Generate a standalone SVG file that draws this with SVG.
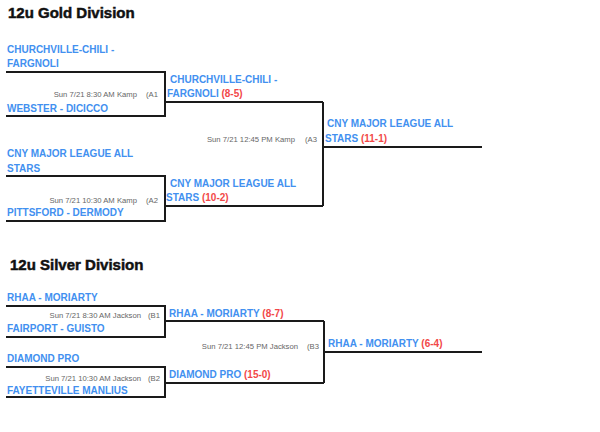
<svg xmlns="http://www.w3.org/2000/svg" width="600" height="432" viewBox="0 0 600 432">
<style>
.title{font-family:"Liberation Sans",Arial,sans-serif;font-weight:bold;font-size:15px;fill:#111;stroke:#111;stroke-width:0.5}
.team{font-family:"Liberation Sans",Arial,sans-serif;font-weight:bold;font-size:10px;fill:#4290f0}
.score{fill:#f24848}
.info{font-family:"Liberation Sans",Arial,sans-serif;font-size:7.7px;fill:#666}
.info-end{text-anchor:end}
.line{fill:none;stroke:#1a1a1a;stroke-width:2}
</style>
<rect width="600" height="432" fill="#fff"/>
<g id="connectors">
  <path class="line" d="M6,72 H165 V116 H6"/>
  <path class="line" d="M165,102 H323"/>
  <path class="line" d="M6,176 H165 V221 H6"/>
  <path class="line" d="M165,206 H323"/>
  <path class="line" d="M323,102 V206"/>
  <path class="line" d="M323,147 H482"/>
  <path class="line" d="M6,306 H165 V337 H6"/>
  <path class="line" d="M165,321 H324"/>
  <path class="line" d="M6,367 H165 V397 H6"/>
  <path class="line" d="M165,383 H324"/>
  <path class="line" d="M324,321 V383"/>
  <path class="line" d="M324,352 H482"/>
</g>
<g id="title-gold"><text class="title" x="8" y="18">12u Gold Division</text></g>
<g id="match-A1">
  <text class="team" x="7" y="53">CHURCHVILLE-CHILI -</text>
  <text class="team" x="7" y="67">FARGNOLI</text>
  <text class="info info-end" x="137" y="97">Sun 7/21 8:30 AM Kamp</text>
  <text class="info" x="146" y="97">(A1</text>
  <text class="team" x="7" y="111.5">WEBSTER - DICICCO</text>
</g>
<g id="winner-A1">
  <text class="team" x="170" y="82.5">CHURCHVILLE-CHILI -</text>
  <text class="team" x="167" y="96.5">FARGNOLI <tspan class="score">(8-5)</tspan></text>
</g>
<g id="match-A2">
  <text class="team" x="7" y="157">CNY MAJOR LEAGUE ALL</text>
  <text class="team" x="7" y="171.5">STARS</text>
  <text class="info info-end" x="137" y="202.5">Sun 7/21 10:30 AM Kamp</text>
  <text class="info" x="146" y="202.5">(A2</text>
  <text class="team" x="7" y="216">PITTSFORD - DERMODY</text>
</g>
<g id="winner-A2">
  <text class="team" x="170" y="187">CNY MAJOR LEAGUE ALL</text>
  <text class="team" x="166" y="201">STARS <tspan class="score">(10-2)</tspan></text>
</g>
<g id="match-A3">
  <text class="info info-end" x="295" y="142">Sun 7/21 12:45 PM Kamp</text>
  <text class="info" x="305" y="142">(A3</text>
</g>
<g id="winner-A3">
  <text class="team" x="327" y="127">CNY MAJOR LEAGUE ALL</text>
  <text class="team" x="325" y="142">STARS <tspan class="score">(11-1)</tspan></text>
</g>
<g id="title-silver"><text class="title" x="10" y="270">12u Silver Division</text></g>
<g id="match-B1">
  <text class="team" x="7" y="301">RHAA - MORIARTY</text>
  <text class="info info-end" x="141" y="318">Sun 7/21 8:30 AM Jackson</text>
  <text class="info" x="148" y="318">(B1</text>
  <text class="team" x="7" y="332">FAIRPORT  - GUISTO</text>
</g>
<g id="winner-B1">
  <text class="team" x="169" y="316.5">RHAA - MORIARTY <tspan class="score">(8-7)</tspan></text>
</g>
<g id="match-B2">
  <text class="team" x="7" y="362">DIAMOND PRO</text>
  <text class="info info-end" x="141" y="381">Sun 7/21 10:30 AM Jackson</text>
  <text class="info" x="148" y="381">(B2</text>
  <text class="team" x="7" y="393.5">FAYETTEVILLE MANLIUS</text>
</g>
<g id="winner-B2">
  <text class="team" x="169" y="378">DIAMOND PRO <tspan class="score">(15-0)</tspan></text>
</g>
<g id="match-B3">
  <text class="info info-end" x="298" y="349">Sun 7/21 12:45 PM Jackson</text>
  <text class="info" x="307" y="349">(B3</text>
</g>
<g id="winner-B3">
  <text class="team" x="328" y="347">RHAA - MORIARTY <tspan class="score">(6-4)</tspan></text>
</g>
</svg>
